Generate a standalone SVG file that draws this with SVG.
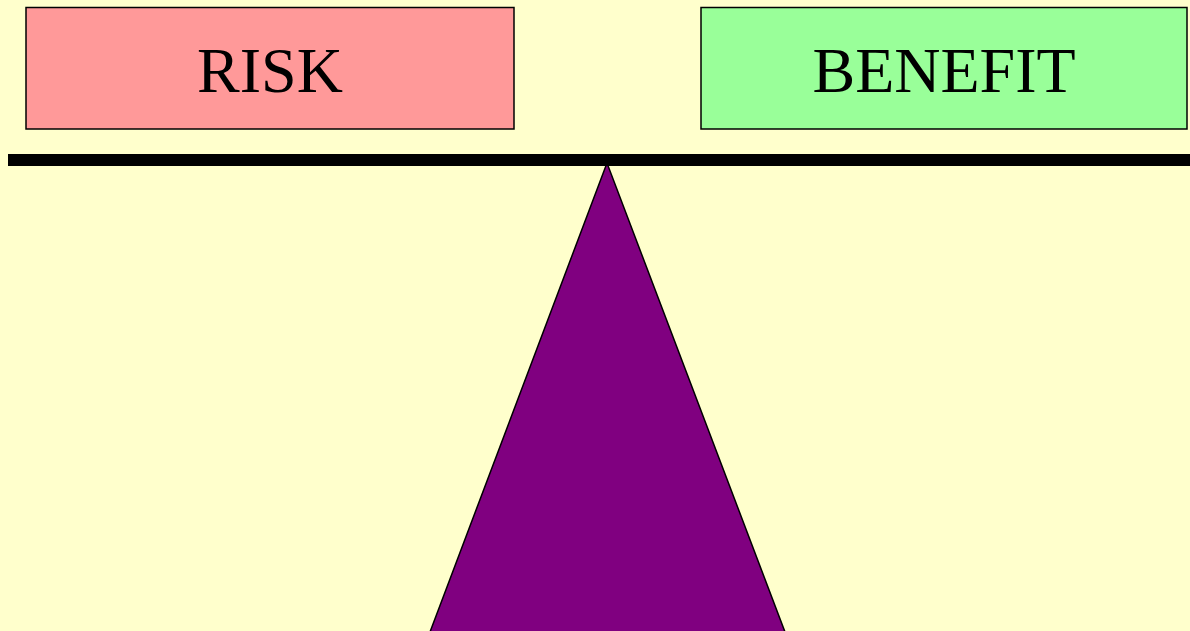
<svg xmlns="http://www.w3.org/2000/svg" width="1190" height="631" viewBox="0 0 1190 631">
<style>
.box{stroke:#000;stroke-width:1.5}
.lbl{font-family:"Liberation Serif","Times New Roman",serif;font-size:64px;fill:#000;text-anchor:middle}
</style>
<rect x="0" y="0" width="1190" height="631" fill="#FFFFCC"/>
<g id="fulcrum">
<polygon points="607,163 430,632 785,632" fill="#800080" stroke="#000" stroke-width="1.5"/>
</g>
<g id="beam">
<rect x="8" y="154" width="1182" height="12" fill="#000"/>
</g>
<g id="risk">
<rect class="box" x="26" y="7.5" width="488" height="121.5" fill="#FF9999"/>
<text class="lbl" x="270" y="92">RISK</text>
</g>
<g id="benefit">
<rect class="box" x="701" y="7.5" width="486" height="121.5" fill="#99FF99"/>
<text class="lbl" x="944" y="92">BENEFIT</text>
</g>
<g id="connectors"></g>
</svg>
